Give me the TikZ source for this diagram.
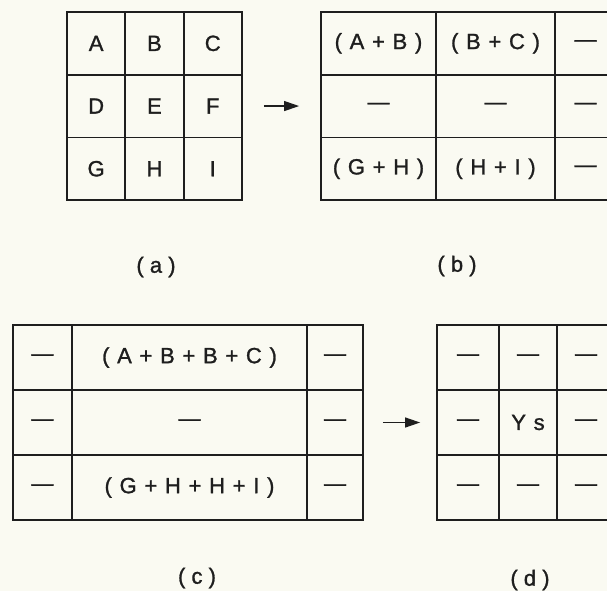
\documentclass[tikz,border=0pt]{standalone}
\usepackage{fontspec}
\newfontfamily\plotfont[LetterSpace=35,FakeBold=1.2]{Liberation Sans}
\usetikzlibrary{matrix,arrows.meta}
\definecolor{paper}{RGB}{250,250,242}
\definecolor{ink}{RGB}{30,30,30}

\begin{document}
\begin{tikzpicture}[
    x=1pt, y=-1pt,
    font=\plotfont\fontsize{22}{26}\selectfont,
    cell/.style={draw=ink, line width=1.8pt, inner sep=0pt, outer sep=0pt,
        anchor=center, text=ink},
    grid/.style={matrix of nodes, inner sep=0pt, outer sep=0pt,
        column sep=-1.8pt, row sep=-1.8pt, anchor=north west, nodes={cell}},
    push/.style={draw=ink, line width=1.2pt, -{Triangle[length=15pt,width=10pt]}}
]
\fill[paper] (0,0) rectangle (607,591);
\useasboundingbox (0,0) rectangle (607,591);
\clip (0,0) rectangle (607,591);

% (a) the 3x3 window
\matrix (ga) [grid, at={(66.1,11.1)}, nodes={minimum width=58.3pt, minimum height=62.7pt}] {
    A & B & C \\
    D & E & F \\
    G & H & I \\
};

% (b) horizontal sums
\matrix (gb) [grid, at={(320.1,11.1)}, nodes={minimum height=62.7pt},
    column 1/.style={nodes={minimum width=115pt}},
    column 2/.style={nodes={minimum width=119pt}},
    column 3/.style={nodes={minimum width=61pt}}] {
    (A+B) & (B+C) & — \\
    —     & —     & — \\
    (G+H) & (H+I) & — \\
};

% (c) vertical sums
\matrix (gc) [grid, at={(12.1,324.1)}, nodes={minimum height=65pt},
    column 1/.style={nodes={minimum width=59pt}},
    column 2/.style={nodes={minimum width=235pt}},
    column 3/.style={nodes={minimum width=56pt}}] {
    — & (A+B+B+C) & — \\
    — & —         & — \\
    — & (G+H+H+I) & — \\
};

% (d) result
\matrix (gd) [grid, at={(436.1,324.1)}, nodes={minimum height=65pt},
    column 1/.style={nodes={minimum width=62pt}},
    column 2/.style={nodes={minimum width=58pt}},
    column 3/.style={nodes={minimum width=58pt}}] {
    — & —  & — \\
    — & Ys & — \\
    — & —  & — \\
};

\draw[push] ([xshift=21pt]ga.east) -- ([xshift=-21pt]gb.west);
\draw[push] ([xshift=19pt]gc.east) -- ([xshift=-16pt]gd.west);

\node[text=ink] (la) at (156,267) {(\;a\;)};
\node[text=ink] (lb) at (457,266) {(\;b\;)};
\node[text=ink] (lc) at (197,578) {(\;c\;)};
\node[text=ink] (ld) at (530,580) {(\;d\;)};
\end{tikzpicture}
\end{document}
